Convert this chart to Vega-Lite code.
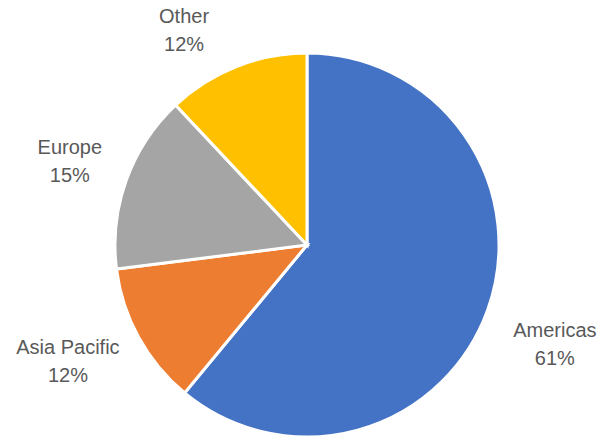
{
  "$schema": "https://vega.github.io/schema/vega-lite/v6.json",
  "width": 608,
  "height": 438,
  "autosize": {"type": "none"},
  "padding": {"left": 3, "top": 26, "right": 0, "bottom": 0},
  "background": "white",
  "view": {"stroke": null},
  "data": {"values": [
    {"region": "Americas", "pct": 61},
    {"region": "Asia Pacific", "pct": 12},
    {"region": "Europe", "pct": 15},
    {"region": "Other", "pct": 12}
  ]},
  "transform": [
    {"calculate": "datum.region + '\\n' + datum.pct + '%'", "as": "label"},
    {"stack": "pct", "groupby": [], "sort": [{"field": "region", "order": "ascending"}], "as": ["s0", "s1"]},
    {"calculate": "(datum.s0 + datum.s1) / 2", "as": "mid"}
  ],
  "encoding": {
    "color": {
      "field": "region", "type": "nominal",
      "scale": {"domain": ["Americas", "Asia Pacific", "Europe", "Other"], "range": ["#4472C4", "#ED7D31", "#A5A5A5", "#FFC000"]},
      "legend": null
    }
  },
  "layer": [
    {
      "mark": {"type": "arc", "outerRadius": 192, "stroke": "white", "strokeWidth": 3},
      "encoding": {
        "theta": {"field": "s0", "type": "quantitative", "scale": {"domain": [0, 100]}},
        "theta2": {"field": "s1"}
      }
    },
    {
      "transform": [{"filter": "datum.region == 'Americas'"}],
      "mark": {"type": "text", "radius": 256, "font": "Liberation Sans", "fontSize": 20, "lineBreak": "\n", "lineHeight": 28, "dx": 7, "dy": -1},
      "encoding": {"theta": {"field": "mid", "type": "quantitative", "scale": {"domain": [0, 100]}}, "text": {"field": "label"}, "color": {"value": "#595959"}}
    },
    {
      "transform": [{"filter": "datum.region == 'Asia Pacific'"}],
      "mark": {"type": "text", "radius": 266, "font": "Liberation Sans", "fontSize": 20, "lineBreak": "\n", "lineHeight": 28, "dx": -6, "dy": -25},
      "encoding": {"theta": {"field": "mid", "type": "quantitative", "scale": {"domain": [0, 100]}}, "text": {"field": "label"}, "color": {"value": "#595959"}}
    },
    {
      "transform": [{"filter": "datum.region == 'Europe'"}],
      "mark": {"type": "text", "radius": 251, "font": "Liberation Sans", "fontSize": 20, "lineBreak": "\n", "lineHeight": 28, "dx": -1, "dy": -12},
      "encoding": {"theta": {"field": "mid", "type": "quantitative", "scale": {"domain": [0, 100]}}, "text": {"field": "label"}, "color": {"value": "#595959"}}
    },
    {
      "transform": [{"filter": "datum.region == 'Other'"}],
      "mark": {"type": "text", "radius": 247, "font": "Liberation Sans", "fontSize": 20, "lineBreak": "\n", "lineHeight": 28, "dx": -32, "dy": 2},
      "encoding": {"theta": {"field": "mid", "type": "quantitative", "scale": {"domain": [0, 100]}}, "text": {"field": "label"}, "color": {"value": "#595959"}}
    }
  ]
}
